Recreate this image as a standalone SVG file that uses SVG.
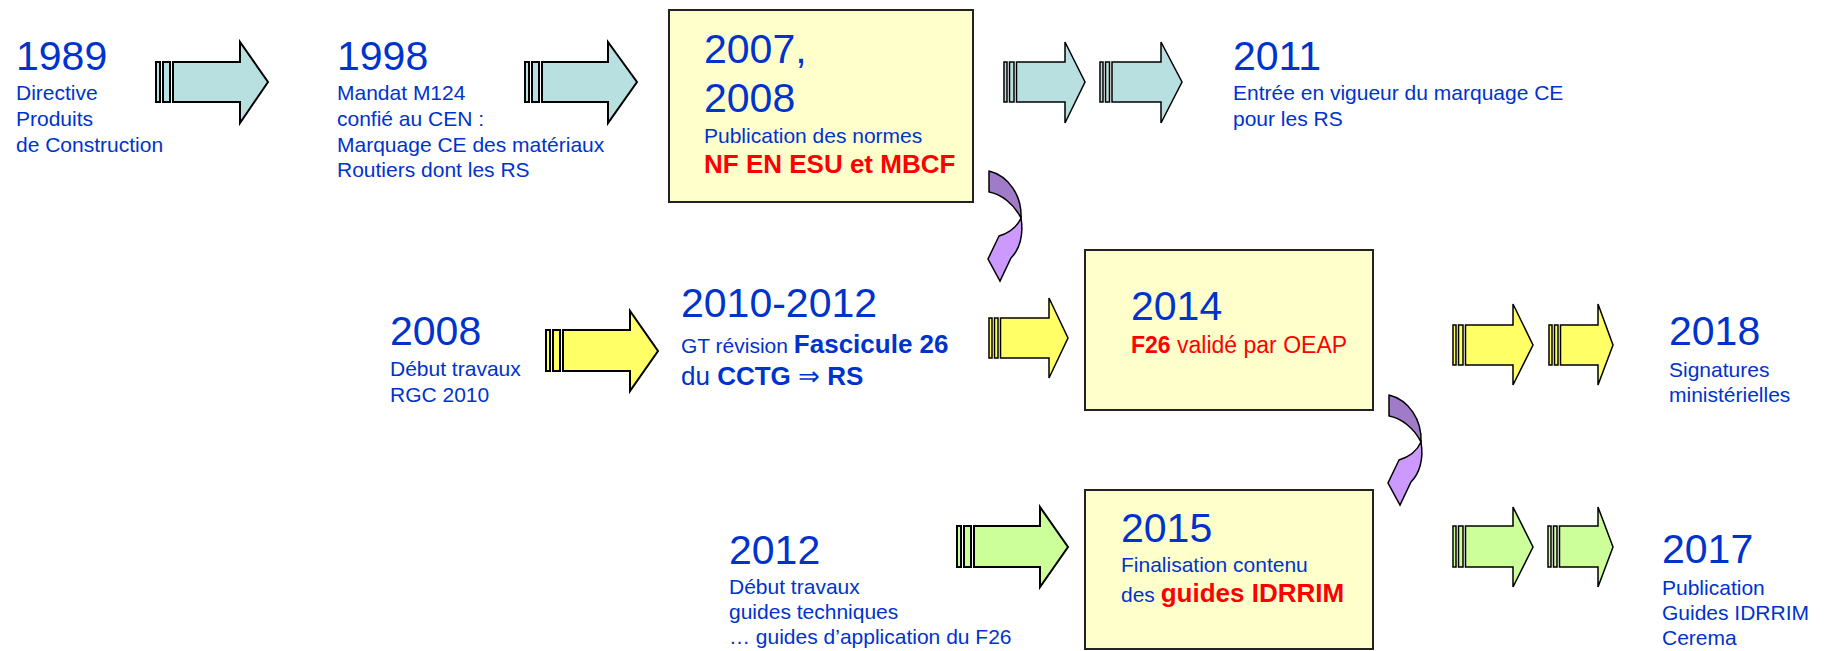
<svg xmlns="http://www.w3.org/2000/svg" width="1827" height="651" viewBox="0 0 1827 651">
<style>
text{font-family:"Liberation Sans",Arial,sans-serif;fill:#0033cc}
.yr{font-size:41px}
.sm{font-size:21px}
.bd{font-weight:bold}
.red{fill:#ff0000}
.box{fill:#ffffcc;stroke:#222;stroke-width:2}
.ar{stroke:#000;stroke-width:2;stroke-linejoin:miter}
.ar2{stroke:#000;stroke-width:1.5;stroke-linejoin:miter}
.teal{fill:#b9e0e0}
.yel{fill:#ffff66}
.grn{fill:#ccff99}
.pd{fill:#a07cc8;stroke:#000;stroke-width:1.5;stroke-linejoin:round}
.pl{fill:#cc99ff;stroke:#000;stroke-width:1.5;stroke-linejoin:miter}
</style>
<defs>
  <g id="curve">
    <path class="pd" d="M989,171 C1009,176 1022,196 1021,218 C1014,204 1001,194 989,192 Z"/>
    <path class="pl" d="M1021,218 C1024,236 1019,250 1011,258 L1000,281 L988,259 L999,236 C1009,233 1017,227 1021,218 Z"/>
  </g>
</defs>
<rect width="1827" height="651" fill="#ffffff"/>

<g id="connectors">
  <g id="a1" class="ar teal">
    <rect x="156" y="62" width="4" height="40"/><rect x="163" y="62" width="7" height="40"/>
    <polygon points="173,62 240,62 240,42 268,82 240,123 240,102 173,102"/>
  </g>
  <g id="a2" class="ar teal">
    <rect x="525" y="62" width="4" height="40"/><rect x="532" y="62" width="7" height="40"/>
    <polygon points="542,62 608,62 608,42 637,82 608,123 608,102 542,102"/>
  </g>
  <g id="a3" class="ar2 teal">
    <rect x="1004" y="62" width="3" height="40"/><rect x="1009.5" y="62" width="4.5" height="40"/>
    <polygon points="1016.5,62 1065,62 1065,42 1085,82 1065,123 1065,102 1016.5,102"/>
  </g>
  <g id="a4" class="ar2 teal">
    <rect x="1100" y="62" width="3" height="40"/><rect x="1105.5" y="62" width="4" height="40"/>
    <polygon points="1112,62 1161,62 1161,42 1182,82 1161,123 1161,102 1112,102"/>
  </g>
  <g id="y1" class="ar yel">
    <rect x="546" y="330" width="4" height="41"/><rect x="553" y="330" width="7" height="41"/>
    <polygon points="563,330 630,330 630,311 658,351 630,391 630,371 563,371"/>
  </g>
  <g id="y2" class="ar2 yel">
    <rect x="989" y="318" width="3" height="40"/><rect x="994.5" y="318" width="3.5" height="40"/>
    <polygon points="1000.5,318 1049,318 1049,298 1068,338 1049,378 1049,358 1000.5,358"/>
  </g>
  <g id="y3" class="ar2 yel">
    <rect x="1453" y="325" width="3" height="40"/><rect x="1458.5" y="325" width="4.5" height="40"/>
    <polygon points="1465.5,325 1513,325 1513,304 1533,345 1513,385 1513,365 1465.5,365"/>
  </g>
  <g id="y4" class="ar2 yel">
    <rect x="1549" y="325" width="3" height="40"/><rect x="1554.5" y="325" width="3.5" height="40"/>
    <polygon points="1560.5,325 1598,325 1598,304 1613,345 1598,385 1598,365 1560.5,365"/>
  </g>
  <g id="g1" class="ar grn">
    <rect x="957" y="526" width="4" height="41"/><rect x="964" y="526" width="7" height="41"/>
    <polygon points="974,526 1040,526 1040,507 1068,547 1040,587 1040,567 974,567"/>
  </g>
  <g id="g2" class="ar2 grn">
    <rect x="1453" y="526" width="3" height="41"/><rect x="1458.5" y="526" width="4.5" height="41"/>
    <polygon points="1465.5,526 1513,526 1513,507 1533,547 1513,587 1513,567 1465.5,567"/>
  </g>
  <g id="g3" class="ar2 grn">
    <rect x="1548" y="526" width="3" height="41"/><rect x="1553.5" y="526" width="3.5" height="41"/>
    <polygon points="1559.5,526 1598,526 1598,507 1613,547 1598,587 1598,567 1559.5,567"/>
  </g>
  <use id="c1" href="#curve"/>
  <use id="c2" href="#curve" transform="translate(400,224)"/>
</g>

<g id="n1989">
  <text class="yr" x="16" y="70">1989</text>
  <text class="sm" x="16" y="100">Directive</text>
  <text class="sm" x="16" y="126">Produits</text>
  <text class="sm" x="16" y="152">de Construction</text>
</g>
<g id="n1998">
  <text class="yr" x="337" y="70">1998</text>
  <text class="sm" x="337" y="100">Mandat M124</text>
  <text class="sm" x="337" y="126">confié au CEN :</text>
  <text class="sm" x="337" y="152">Marquage CE des matériaux</text>
  <text class="sm" x="337" y="177">Routiers dont les RS</text>
</g>
<g id="n2007">
  <rect class="box" x="669" y="10" width="304" height="192"/>
  <text class="yr" x="704" y="63">2007,</text>
  <text class="yr" x="704" y="112">2008</text>
  <text class="sm" x="704" y="143">Publication des normes</text>
  <text class="bd red" x="704" y="173" font-size="26">NF EN ESU et MBCF</text>
</g>
<g id="n2011">
  <text class="yr" x="1233" y="70">2011</text>
  <text class="sm" x="1233" y="100">Entrée en vigueur du marquage CE</text>
  <text class="sm" x="1233" y="126">pour les RS</text>
</g>
<g id="n2008">
  <text class="yr" x="390" y="345">2008</text>
  <text class="sm" x="390" y="376">Début travaux</text>
  <text class="sm" x="390" y="402">RGC 2010</text>
</g>
<g id="n2010">
  <text class="yr" x="681" y="317">2010-2012</text>
  <text x="681" y="353"><tspan class="sm">GT révision </tspan><tspan class="bd" font-size="26">Fascicule 26</tspan></text>
  <text x="681" y="385" font-size="26">du <tspan class="bd">CCTG</tspan> ⇒ <tspan class="bd">RS</tspan></text>
</g>
<g id="n2014">
  <rect class="box" x="1085" y="250" width="288" height="160"/>
  <text class="yr" x="1131" y="320">2014</text>
  <text class="red" x="1131" y="353" font-size="23"><tspan class="bd">F26</tspan> validé par OEAP</text>
</g>
<g id="n2018">
  <text class="yr" x="1669" y="345">2018</text>
  <text class="sm" x="1669" y="377">Signatures</text>
  <text class="sm" x="1669" y="402">ministérielles</text>
</g>
<g id="n2012">
  <text class="yr" x="729" y="564">2012</text>
  <text class="sm" x="729" y="594">Début travaux</text>
  <text class="sm" x="729" y="619">guides techniques</text>
  <text class="sm" x="729" y="644">… guides d’application du F26</text>
</g>
<g id="n2015">
  <rect class="box" x="1085" y="490" width="288" height="159"/>
  <text class="yr" x="1121" y="542">2015</text>
  <text class="sm" x="1121" y="572">Finalisation contenu</text>
  <text x="1121" y="602"><tspan class="sm">des </tspan><tspan class="bd red" font-size="26">guides IDRRIM</tspan></text>
</g>
<g id="n2017">
  <text class="yr" x="1662" y="563">2017</text>
  <text class="sm" x="1662" y="595">Publication</text>
  <text class="sm" x="1662" y="620">Guides IDRRIM</text>
  <text class="sm" x="1662" y="645">Cerema</text>
</g>
</svg>
